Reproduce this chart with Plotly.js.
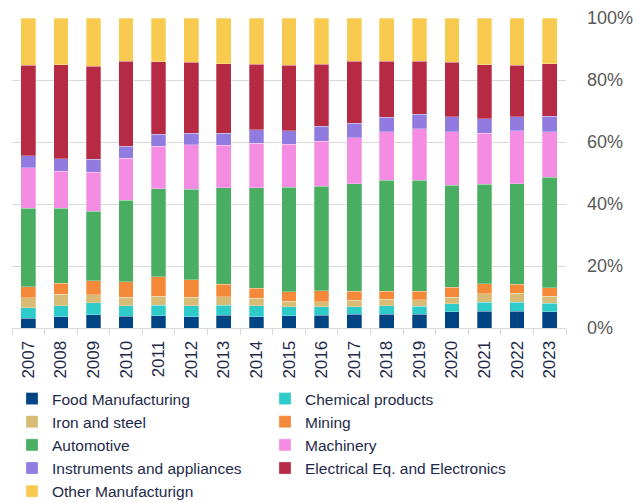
<!DOCTYPE html>
<html>
<head>
<meta charset="utf-8">
<script src="https://cdn.plot.ly/plotly-3.0.1.min.js"></script>
<style>
  html, body { margin: 0; padding: 0; background: #ffffff; }
  #chart { width: 644px; height: 503px; }
</style>
</head>
<body>
<div id="chart"></div>
<script>
// Share of output by sector, per year (percent of total)
const years = ["2007","2008","2009","2010","2011","2012","2013","2014","2015",
               "2016","2017","2018","2019","2020","2021","2022","2023"];

const foodManufacturing = [3.2,3.6,4.3,3.8,4.0,3.7,4.1,3.7,3.9,4.1,4.4,4.4,4.5,5.2,5.4,5.4,5.3];
const chemicalProducts  = [3.4,3.5,3.8,3.3,3.4,3.5,3.3,3.4,2.9,2.8,2.5,2.7,2.5,2.7,2.9,2.9,2.7];
const ironAndSteel      = [3.1,3.8,2.6,2.8,2.9,2.7,2.7,2.5,1.9,1.6,2.0,2.1,2.1,2.0,2.7,2.9,2.3];
const mining            = [3.6,3.6,4.6,5.0,6.2,5.6,4.0,3.2,3.0,3.5,3.0,2.7,2.8,3.2,3.3,2.9,2.7];
const automotive        = [25.4,24.2,22.3,26.3,28.4,29.2,31.2,32.5,33.7,33.8,34.7,35.7,35.8,32.9,32.1,32.5,35.7];
const machinery         = [13.0,11.9,12.7,13.6,13.7,14.4,13.6,14.3,13.8,14.5,14.7,15.7,16.5,17.3,16.4,17.0,14.6];
const instruments       = [3.8,4.0,4.2,3.9,3.9,3.7,4.0,4.3,4.4,4.8,4.8,4.7,4.7,4.8,4.7,4.5,5.0];
const electrical        = [29.3,30.4,30.0,27.4,23.4,22.9,22.4,21.2,21.2,20.0,19.9,18.1,17.1,17.7,17.4,16.7,16.9];
const otherManufacturing= [15.2,15.0,15.5,13.9,14.1,14.3,14.7,14.9,15.2,14.9,14.0,13.9,14.0,14.2,15.1,15.2,14.8];

const seriesNames = ["Food Manufacturing","Chemical products","Iron and steel","Mining",
                     "Automotive","Machinery","Instruments and appliances",
                     "Electrical Eq. and Electronics","Other Manufacturign"];
const seriesValues = [foodManufacturing, chemicalProducts, ironAndSteel, mining,
                      automotive, machinery, instruments, electrical, otherManufacturing];
const seriesColors = ["#004483","#2ecbcb","#d8bb74","#f5893a","#4aae62",
                      "#f48ce4","#917be0","#b72a43","#f8cb50"];

const yTicks = [0, 20, 40, 60, 80, 100];

const traces = seriesNames.map((name, i) => ({
  type: "bar",
  name: name,
  x: years,
  y: seriesValues[i],
  marker: {
    color: seriesColors[i],
    line: { color: "rgba(255,255,255,0.35)", width: 0.8 }
  },
  hoverinfo: "x+y+name"
}));

const layout = {
  width: 644,
  height: 503,
  barmode: "stack",
  bargap: 0.55,
  margin: { l: 12, r: 78, t: 18, b: 175, pad: 0 },
  paper_bgcolor: "#ffffff",
  plot_bgcolor: "#ffffff",
  font: { family: "Liberation Sans, Arial, sans-serif", color: "#1e2a4a" },
  xaxis: {
    type: "category",
    tickangle: -90,
    ticks: "outside",
    tickson: "boundaries",
    ticklen: 6,
    tickcolor: "#d9d9d9",
    showline: true,
    linecolor: "#d9d9d9",
    linewidth: 1,
    showgrid: false,
    ticklabelstandoff: 5,
    tickfont: { size: 17, color: "#1e2a4a" }
  },
  yaxis: {
    side: "right",
    range: [0, 100],
    tickvals: yTicks,
    ticktext: yTicks.map(v => v + "%"),
    showgrid: true,
    gridcolor: "#d9d9d9",
    gridwidth: 1,
    zeroline: false,
    showline: false,
    ticks: "",
    ticklabelstandoff: 20,
    tickfont: { size: 18, color: "#595959" }
  },
  legend: {
    orientation: "h",
    xref: "container",
    yref: "container",
    x: 12 / 644,
    y: 1 - 382 / 503,
    xanchor: "left",
    yanchor: "top",
    traceorder: "normal",
    entrywidth: 208,
    entrywidthmode: "pixels",
    itemwidth: 30,
    font: { family: "Liberation Sans, Arial, sans-serif", size: 15.5, color: "#1e2a4a" },
    bgcolor: "rgba(0,0,0,0)"
  }
};

Plotly.newPlot("chart", traces, layout, { displayModeBar: false, staticPlot: true });
</script>
</body>
</html>
